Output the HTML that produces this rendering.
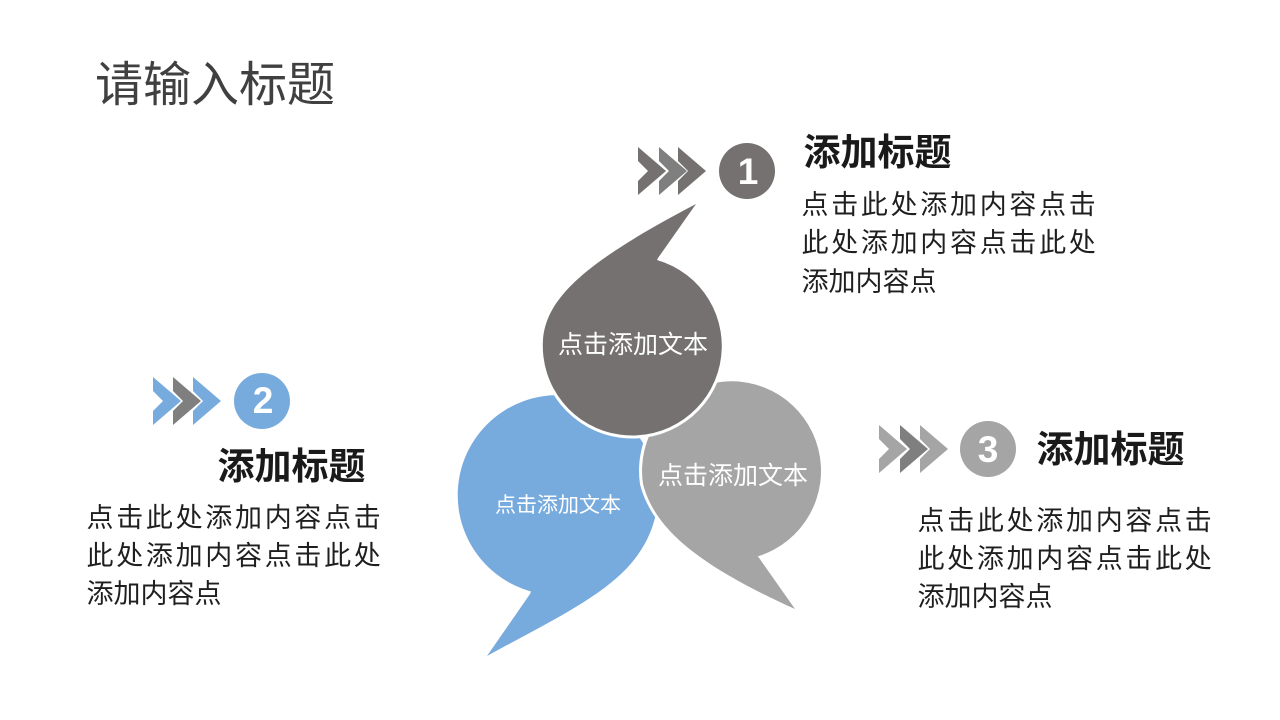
<!DOCTYPE html>
<html lang="zh">
<head>
<meta charset="utf-8">
<title>请输入标题</title>
<style>
html,body{margin:0;padding:0;background:#fff;width:1280px;height:720px;overflow:hidden}
svg{display:block}
text{font-family:"Liberation Sans","Noto Sans CJK SC",sans-serif}
.h{font-size:37px;font-weight:700;fill:#1a1a1a}
.b{font-size:27px;fill:#1f1f1f}
.s{letter-spacing:2.7px}
.w{fill:#fff}
.n{font-size:37px;font-weight:700;fill:#fff;text-anchor:middle;font-family:"Liberation Sans",sans-serif}
</style>
</head>
<body>
<svg width="1280" height="720" viewBox="0 0 1280 720" xmlns="http://www.w3.org/2000/svg">
<defs>
<polygon id="c" points="0,0 28,24 0,48 0,34 10,24 0,14"/>
</defs>
<text x="95" y="101" font-size="48" fill="#404040">请输入标题</text>

<!-- bubbles -->
<path d="M487 656 L530 594 L531 591.5 A100 100 0 1 1 655.5 516 C640 580 580 605 487 656 Z" fill="#78abdd"/>
<path d="M795 609 L757 555 L758 556.3 A89.5 89.5 0 1 0 643 484 C655 530 700 566 795 609 Z" fill="#a5a5a5" stroke="#fff" stroke-width="6" paint-order="stroke"/>
<path d="M696 204 L658 258 L657 260 A89.5 89.5 0 1 1 543 340 C546 298 585 262 696 204 Z" fill="#767171" stroke="#fff" stroke-width="6" paint-order="stroke"/>

<text x="558" y="353" font-size="25" class="w">点击添加文本</text>
<text x="658" y="484" font-size="25" class="w">点击添加文本</text>
<text x="495" y="512" font-size="21" class="w">点击添加文本</text>

<!-- group 1 -->
<use href="#c" x="638" y="147" fill="#767171"/>
<use href="#c" x="659" y="147" fill="#7f7f7f"/>
<use href="#c" x="678" y="147" fill="#767171"/>
<circle cx="747" cy="171" r="28" fill="#767171"/>
<text x="748" y="184" class="n">1</text>
<text x="803.5" y="165" class="h">添加标题</text>
<text x="801.5" y="214" class="b s">点击此处添加内容点击</text>
<text x="801.5" y="252" class="b s">此处添加内容点击此处</text>
<text x="801.5" y="291" class="b">添加内容点</text>

<!-- group 2 -->
<use href="#c" x="153" y="377" fill="#78abdd"/>
<use href="#c" x="173" y="377" fill="#7f7f7f"/>
<use href="#c" x="193" y="377" fill="#78abdd"/>
<circle cx="262" cy="401" r="28" fill="#78abdd"/>
<text x="263" y="413" class="n">2</text>
<text x="217.5" y="479" class="h">添加标题</text>
<text x="86.5" y="527" class="b s">点击此处添加内容点击</text>
<text x="86.5" y="565" class="b s">此处添加内容点击此处</text>
<text x="86.5" y="603" class="b">添加内容点</text>

<!-- group 3 -->
<use href="#c" x="879" y="425" fill="#a5a5a5"/>
<use href="#c" x="900" y="425" fill="#7f7f7f"/>
<use href="#c" x="920" y="425" fill="#a5a5a5"/>
<circle cx="988" cy="449" r="28" fill="#a5a5a5"/>
<text x="988" y="462" class="n">3</text>
<text x="1036.5" y="462" class="h">添加标题</text>
<text x="917.5" y="530" class="b s">点击此处添加内容点击</text>
<text x="917.5" y="568" class="b s">此处添加内容点击此处</text>
<text x="917.5" y="606" class="b">添加内容点</text>
</svg>
</body>
</html>
